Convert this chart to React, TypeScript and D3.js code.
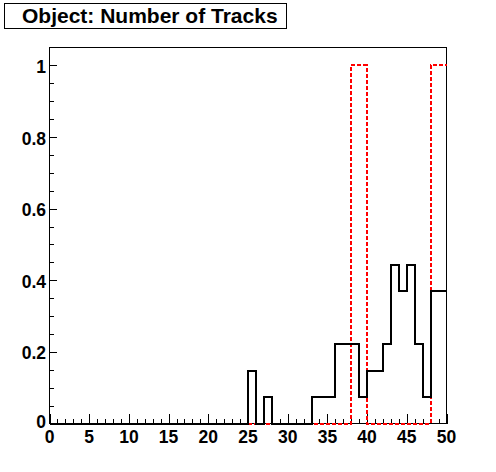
import React from "react";
import * as d3 from "d3";

const binEdges: number[] = d3.range(0, 51);
const blackValues: number[] = [
  0, 0, 0, 0, 0, 0, 0, 0, 0, 0,
  0, 0, 0, 0, 0, 0, 0, 0, 0, 0,
  0, 0, 0, 0, 0, 0.148, 0, 0.074, 0, 0,
  0, 0, 0, 0.074, 0.074, 0.074, 0.222, 0.222, 0.222, 0.074,
  0.148, 0.148, 0.222, 0.444, 0.37, 0.444, 0.222, 0.074, 0.37, 0.37,
];
const redValues: number[] = [
  0, 0, 0, 0, 0, 0, 0, 0, 0, 0,
  0, 0, 0, 0, 0, 0, 0, 0, 0, 0,
  0, 0, 0, 0, 0, 0, 0, 0, 0, 0,
  0, 0, 0, 0, 0, 0, 0, 0, 1, 1,
  0, 0, 0, 0, 0, 0, 0, 0, 1, 1,
];
const xTickLabels: number[] = [0, 5, 10, 15, 20, 25, 30, 35, 40, 45, 50];
const yTickLabels: string[] = ["0", "0.2", "0.4", "0.6", "0.8", "1"];
const title = "Object: Number of Tracks";

const W = 496;
const H = 472;
const L = 49.5;
const R = 446.5;
const T = 47.5;
const B = 423.5;
const FONT = "'Liberation Sans', Arial, Helvetica, sans-serif";

export default function App() {
  const x = d3.scaleLinear().domain([0, 50]).range([L, R]);
  const y = d3.scaleLinear().domain([0, 1.05]).range([B, T]);

  const stepPath = (vals: number[]) => {
    const pts: [number, number][] = binEdges.map((e, i) => [e, vals[Math.min(i, vals.length - 1)]]);
    return d3
      .line<[number, number]>()
      .x((d) => x(d[0]))
      .y((d) => y(d[1]))
      .curve(d3.curveStepAfter)(pts) as string;
  };

  const xMinor = d3.range(0, 51);
  const yMinor = d3.range(0, 21).map((i) => i * 0.05);

  return (
    <svg
      width={W}
      height={H}
      style={{ position: "absolute", left: 0, top: 0, background: "#fff" }}
      fontFamily={FONT}
    >
      <rect x={0} y={0} width={W} height={H} fill="#fff" />
      <rect x={L} y={T} width={R - L} height={B - T} fill="none" stroke="#000" strokeWidth={1} shapeRendering="crispEdges" />
      {xMinor.map((v) => (
        <line
          key={"xm" + v}
          x1={Math.round(x(v)) + 0.5}
          x2={Math.round(x(v)) + 0.5}
          y1={B}
          y2={B - (v % 5 === 0 ? 10 : 5)}
          stroke="#000"
          strokeWidth={1}
          shapeRendering="crispEdges"
        />
      ))}
      {yMinor.map((v, i) => (
        <line
          key={"ym" + i}
          x1={L}
          x2={L + (i % 4 === 0 ? 7 : 4)}
          y1={Math.round(y(v)) + 0.5}
          y2={Math.round(y(v)) + 0.5}
          stroke="#000"
          strokeWidth={1}
          shapeRendering="crispEdges"
        />
      ))}
      <path
        d={stepPath(redValues)}
        fill="none"
        stroke="#ff0000"
        strokeWidth={2}
        strokeDasharray="4,2"
        shapeRendering="crispEdges"
      />
      <path d={stepPath(blackValues)} fill="none" stroke="#000" strokeWidth={2} shapeRendering="crispEdges" />
      {xTickLabels.map((v) => (
        <text key={"xl" + v} x={x(v)} y={442.5} textAnchor="middle" fontSize={17.5} fontWeight="bold" fill="#000">
          {v}
        </text>
      ))}
      {yTickLabels.map((s) => (
        <text
          key={"yl" + s}
          x={46}
          y={y(+s) + (s === "0" ? 4 : 7.5)}
          textAnchor="end"
          fontSize={17.5}
          fontWeight="bold"
          fill="#000"
        >
          {s}
        </text>
      ))}
      <rect x={4.5} y={3.5} width={282} height={25} fill="#fff" stroke="#000" strokeWidth={1} shapeRendering="crispEdges" />
      <text x={22} y={22.5} fontSize={21} fontWeight="bold" fill="#000">
        {title}
      </text>
    </svg>
  );
}
